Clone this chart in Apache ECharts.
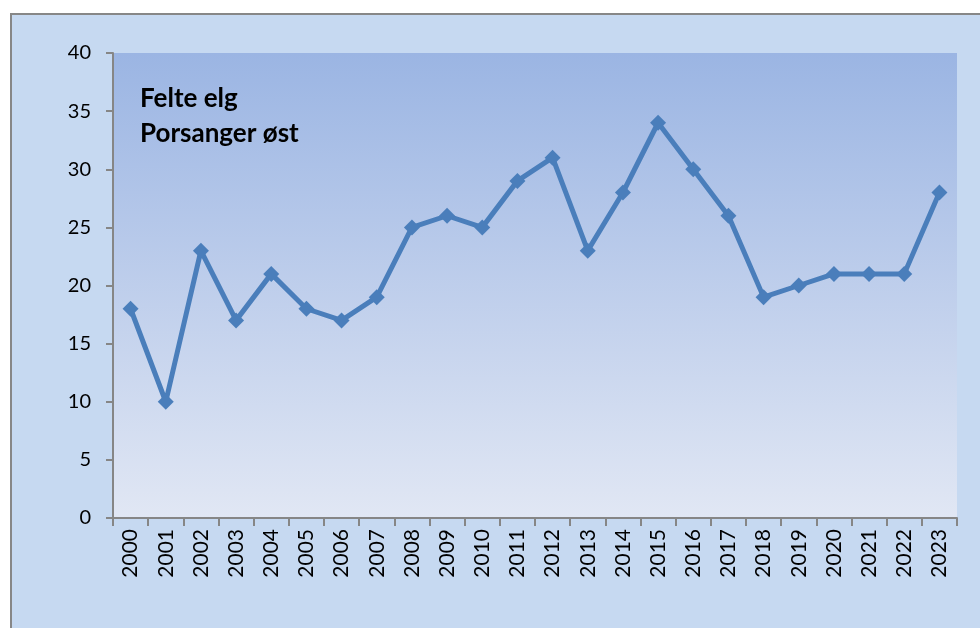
<!DOCTYPE html>
<html>
<head>
<meta charset="utf-8">
<script src="https://cdn.jsdelivr.net/npm/echarts@6/dist/echarts.min.js"></script>
<style>
  html, body { margin: 0; padding: 0; background: #fff; }
  #chart { width: 980px; height: 628px; }
</style>
</head>
<body>
<div id="chart"></div>
<script>
var years = ['2000', '2001', '2002', '2003', '2004', '2005', '2006', '2007', '2008', '2009', '2010', '2011',
             '2012', '2013', '2014', '2015', '2016', '2017', '2018', '2019', '2020', '2021', '2022', '2023'];
var felteElg = [18, 10, 23, 17, 21, 18, 17, 19, 25, 26, 25, 29, 31, 23, 28, 34, 30, 26, 19, 20, 21, 21, 21, 28];
var titleLines = ['Felte elg', 'Porsanger øst'];

var myChart = echarts.init(document.getElementById('chart'));

var option = {
    backgroundColor: '#ffffff',
    textStyle: { fontFamily: 'Lato, "Open Sans", sans-serif' },
    animation: false,
    graphic: [{
        type: 'rect',
        z: -10,
        shape: { x: 11, y: 14, width: 980, height: 640 },
        style: { fill: '#c6d9f1', stroke: '#878787', lineWidth: 2 }
    }],
    title: {
        text: titleLines.join('\n'),
        left: 135,
        top: 76,
        textStyle: { fontSize: 26, fontWeight: 'bold', color: '#000', lineHeight: 35, fontFamily: 'Lato, sans-serif' }
    },
    grid: {
        left: 113,
        right: 23,
        top: 53,
        bottom: 110,
        show: true,
        borderWidth: 0,
        backgroundColor: new echarts.graphic.LinearGradient(0, 0, 0, 1, [
            { offset: 0, color: '#9bb5e3' },
            { offset: 1, color: '#e1e7f4' }
        ])
    },
    xAxis: {
        type: 'category',
        data: years,
        boundaryGap: true,
        axisLine: { lineStyle: { color: '#868686', width: 2 } },
        axisTick: { show: true, length: 8, alignWithLabel: false, lineStyle: { color: '#868686', width: 2 } },
        axisLabel: { rotate: 90, color: '#000', fontSize: 21, margin: 11, interval: 0 },
        splitLine: { show: false }
    },
    yAxis: {
        type: 'value',
        min: 0,
        max: 40,
        interval: 5,
        axisLine: { show: true, lineStyle: { color: '#868686', width: 2 } },
        axisTick: { show: true, length: 7, lineStyle: { color: '#868686', width: 2 } },
        axisLabel: { color: '#000', fontSize: 20, margin: 22 },
        splitLine: { show: false }
    },
    series: [{
        type: 'line',
        data: felteElg,
        symbol: 'diamond',
        symbolSize: 16,
        lineStyle: { color: '#4a7ebb', width: 5 },
        itemStyle: { color: '#4a7ebb' }
    }]
};
myChart.setOption(option);
</script>
</body>
</html>
